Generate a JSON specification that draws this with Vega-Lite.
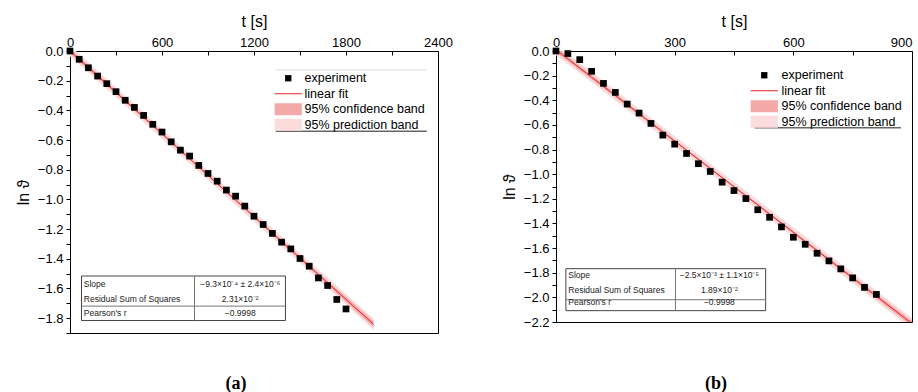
{
  "$schema": "https://vega.github.io/schema/vega-lite/v6.json",
  "padding": {"left": 14, "top": 12, "right": 0, "bottom": 0},
  "spacing": 47,
  "config": {
    "font": "Liberation Sans",
    "view": {"stroke": "#000", "strokeWidth": 1},
    "axis": {"domainColor": "#000", "tickColor": "#000", "labelColor": "#000", "titleColor": "#000", "labelFont": "Liberation Sans", "titleFont": "Liberation Sans", "labelFontSize": 13, "titleFontSize": 16, "titleFontWeight": "normal", "grid": false, "labelFlush": false, "labelOverlap": false},
    "legend": {"labelFont": "Liberation Sans", "labelFontSize": 12.5, "labelColor": "#000"},
    "title": {"font": "Liberation Serif", "fontSize": 18, "fontWeight": "bold", "color": "#000", "orient": "bottom", "anchor": "middle"}
  },
  "resolve": {
    "scale": {"x": "independent", "y": "independent", "color": "independent", "shape": "independent"},
    "legend": {"color": "independent", "shape": "independent"}
  },
  "datasets": {
    "ptsA": [
      {"t": 0, "ln": 0}, {"t": 60, "ln": -0.056}, {"t": 120, "ln": -0.113}, {"t": 180, "ln": -0.169}, {"t": 240, "ln": -0.22}, {"t": 300, "ln": -0.274}, {"t": 360, "ln": -0.332}, {"t": 420, "ln": -0.38}, {"t": 480, "ln": -0.434}, {"t": 540, "ln": -0.494}, {"t": 600, "ln": -0.546}, {"t": 660, "ln": -0.612}, {"t": 720, "ln": -0.668}, {"t": 780, "ln": -0.708}, {"t": 840, "ln": -0.771}, {"t": 900, "ln": -0.825}, {"t": 960, "ln": -0.877}, {"t": 1020, "ln": -0.937}, {"t": 1080, "ln": -0.978}, {"t": 1140, "ln": -1.045}, {"t": 1200, "ln": -1.113}, {"t": 1260, "ln": -1.169}, {"t": 1320, "ln": -1.229}, {"t": 1380, "ln": -1.288}, {"t": 1440, "ln": -1.333}, {"t": 1500, "ln": -1.398}, {"t": 1560, "ln": -1.45}, {"t": 1620, "ln": -1.529}, {"t": 1680, "ln": -1.58}, {"t": 1740, "ln": -1.674}, {"t": 1800, "ln": -1.738}
    ],
    "fitA": [
      {"t": 0, "fit": 0, "clo": -0.018, "chi": 0.018, "plo": -0.036, "phi": 0.036},
      {"t": 400, "fit": -0.372, "clo": -0.383, "chi": -0.361, "plo": -0.405, "phi": -0.339},
      {"t": 800, "fit": -0.744, "clo": -0.752, "chi": -0.736, "plo": -0.776, "phi": -0.712},
      {"t": 1200, "fit": -1.116, "clo": -1.125, "chi": -1.107, "plo": -1.148, "phi": -1.084},
      {"t": 1600, "fit": -1.488, "clo": -1.501, "chi": -1.475, "plo": -1.522, "phi": -1.454},
      {"t": 1980, "fit": -1.841, "clo": -1.861, "chi": -1.821, "plo": -1.879, "phi": -1.803}
    ],
    "ptsB": [
      {"t": 0, "ln": 0}, {"t": 30, "ln": -0.021}, {"t": 60, "ln": -0.07}, {"t": 90, "ln": -0.165}, {"t": 120, "ln": -0.263}, {"t": 150, "ln": -0.336}, {"t": 180, "ln": -0.431}, {"t": 210, "ln": -0.504}, {"t": 240, "ln": -0.588}, {"t": 270, "ln": -0.683}, {"t": 300, "ln": -0.756}, {"t": 330, "ln": -0.832}, {"t": 360, "ln": -0.915}, {"t": 390, "ln": -0.978}, {"t": 420, "ln": -1.065}, {"t": 450, "ln": -1.133}, {"t": 480, "ln": -1.198}, {"t": 510, "ln": -1.289}, {"t": 540, "ln": -1.35}, {"t": 570, "ln": -1.428}, {"t": 600, "ln": -1.512}, {"t": 630, "ln": -1.569}, {"t": 660, "ln": -1.642}, {"t": 690, "ln": -1.704}, {"t": 720, "ln": -1.769}, {"t": 750, "ln": -1.842}, {"t": 780, "ln": -1.919}, {"t": 810, "ln": -1.976}
    ],
    "fitB": [
      {"t": 0, "fit": 0.01, "clo": -0.01, "chi": 0.03, "plo": -0.035, "phi": 0.055},
      {"t": 225, "fit": -0.546, "clo": -0.558, "chi": -0.534, "plo": -0.587, "phi": -0.505},
      {"t": 450, "fit": -1.102, "clo": -1.111, "chi": -1.093, "plo": -1.142, "phi": -1.062},
      {"t": 675, "fit": -1.657, "clo": -1.669, "chi": -1.645, "plo": -1.698, "phi": -1.616},
      {"t": 900, "fit": -2.213, "clo": -2.235, "chi": -2.191, "plo": -2.259, "phi": -2.167}
    ],
    "legendItems": [
      {"item": "experiment"}, {"item": "linear fit"}, {"item": "95% confidence band"}, {"item": "95% prediction band"}
    ]
  },
  "hconcat": [
    {
      "width": 368,
      "height": 282,
      "title": {"text": "(a)", "offset": 35, "dx": -18},
      "layer": [
        {
          "data": {"name": "fitA"},
          "mark": {"type": "area", "color": "#fbdcdc", "clip": true},
          "encoding": {
            "x": {"field": "t", "type": "quantitative", "scale": {"domain": [0, 2400], "nice": false, "zero": false},
              "axis": {"orient": "top", "title": "t [s]", "values": [0, 300, 600, 900, 1200, 1500, 1800, 2100, 2400], "tickCount": 100, "format": "d", "labelExpr": "datum.value % 600 == 0 ? datum.label : ''", "tickSize": -4, "labelPadding": 6, "titlePadding": 7, "labelOverlap": false, "labelFlush": false}},
            "y": {"field": "plo", "type": "quantitative", "scale": {"domain": [-1.9, 0], "nice": false, "zero": false},
              "axis": {"title": "ln ϑ", "values": [0, -0.1, -0.2, -0.3, -0.4, -0.5, -0.6, -0.7, -0.8, -0.9, -1, -1.1, -1.2, -1.3, -1.4, -1.5, -1.6, -1.7, -1.8, -1.9], "tickCount": 100, "format": ".1f", "labelExpr": "abs(round(datum.value*10)) % 2 == 0 ? datum.label : ''", "tickSize": 4, "labelPadding": 3, "titlePadding": 6, "labelOverlap": false, "labelFlush": false}},
            "y2": {"field": "phi"}
          }
        },
        {
          "data": {"name": "fitA"},
          "mark": {"type": "area", "color": "#f4a9a9", "clip": true},
          "encoding": {"x": {"field": "t", "type": "quantitative"}, "y": {"field": "clo", "type": "quantitative"}, "y2": {"field": "chi"}}
        },
        {
          "data": {"name": "fitA"},
          "mark": {"type": "line", "color": "#e8262a", "strokeWidth": 1, "clip": true},
          "encoding": {"x": {"field": "t", "type": "quantitative"}, "y": {"field": "fit", "type": "quantitative"}}
        },
        {
          "data": {"name": "ptsA"},
          "mark": {"type": "square", "color": "#000", "filled": true, "size": 45, "opacity": 1},
          "encoding": {"x": {"field": "t", "type": "quantitative"}, "y": {"field": "ln", "type": "quantitative"}}
        },
        {
          "data": {"values": [{}]},
          "mark": {"type": "rule", "color": "#ddd", "strokeWidth": 1},
          "encoding": {"x": {"datum": 1342, "type": "quantitative"}, "x2": {"datum": 2327}, "y": {"datum": -0.128, "type": "quantitative"}}
        },
        {
          "data": {"values": [{}]},
          "mark": {"type": "rule", "color": "#666", "strokeWidth": 1.5},
          "encoding": {"x": {"datum": 1342, "type": "quantitative"}, "x2": {"datum": 2327}, "y": {"datum": -0.541, "type": "quantitative"}}
        },
        {
          "data": {"name": "legendItems"},
          "mark": {"type": "point", "filled": true, "opacity": 0},
          "encoding": {
            "x": {"datum": 0, "type": "quantitative"},
            "y": {"datum": 0, "type": "quantitative"},
            "color": {"field": "item", "type": "nominal", "sort": null,
              "scale": {"domain": ["experiment", "linear fit", "95% confidence band", "95% prediction band"], "range": ["#000000", "#e8262a", "#f4a9a9", "#fbdcdc"]},
              "legend": {"title": null, "orient": "none", "legendX": 212, "legendY": 21, "symbolSize": 40, "labelOffset": 10, "rowPadding": 2.5, "padding": 0, "symbolStrokeWidth": 0, "symbolOpacity": 1, "encode": {"symbols": {"update": {"opacity": {"value": 1}, "fillOpacity": {"value": 1}}}}}},
            "shape": {"field": "item", "type": "nominal", "sort": null,
              "scale": {"domain": ["experiment", "linear fit", "95% confidence band", "95% prediction band"], "range": ["square", "M-4.3,-0.16H4.3V0.16H-4.3Z", "M-4.3,-1.9H4.3V1.9H-4.3Z", "M-4.3,-1.9H4.3V1.9H-4.3Z"]},
              "legend": {"title": null, "orient": "none", "legendX": 212, "legendY": 21, "symbolSize": 40, "labelOffset": 10, "rowPadding": 2.5, "padding": 0, "symbolStrokeWidth": 0, "symbolOpacity": 1, "encode": {"symbols": {"update": {"opacity": {"value": 1}, "fillOpacity": {"value": 1}}}}}}
          }
        },
        {
          "data": {"values": [{}]},
          "mark": {"type": "rect", "fill": "#fff", "stroke": "#444", "strokeWidth": 1},
          "encoding": {"x": {"datum": 75, "type": "quantitative"}, "x2": {"datum": 1405}, "y": {"datum": -1.516, "type": "quantitative"}, "y2": {"datum": -1.816}}
        },
        {
          "data": {"values": [{}]},
          "mark": {"type": "rule", "color": "#777", "strokeWidth": 1},
          "encoding": {"x": {"datum": 812, "type": "quantitative"}, "y": {"datum": -1.516, "type": "quantitative"}, "y2": {"datum": -1.816}}
        },
        {
          "data": {"values": [{}]},
          "mark": {"type": "rule", "color": "#777", "strokeWidth": 1},
          "encoding": {"x": {"datum": 75, "type": "quantitative"}, "x2": {"datum": 1405}, "y": {"datum": -1.719, "type": "quantitative"}}
        },
        {
          "data": {"values": [{"s": "Slope"}]},
          "mark": {"type": "text", "align": "left", "baseline": "middle", "fontSize": 8.5, "color": "#222"},
          "encoding": {"x": {"datum": 90, "type": "quantitative"}, "y": {"datum": -1.57, "type": "quantitative"}, "text": {"field": "s"}}
        },
        {
          "data": {"values": [{"s": "Residual Sum of Squares"}]},
          "mark": {"type": "text", "align": "left", "baseline": "middle", "fontSize": 8.5, "color": "#222"},
          "encoding": {"x": {"datum": 90, "type": "quantitative"}, "y": {"datum": -1.669, "type": "quantitative"}, "text": {"field": "s"}}
        },
        {
          "data": {"values": [{"s": "Pearson's r"}]},
          "mark": {"type": "text", "align": "left", "baseline": "middle", "fontSize": 8.5, "color": "#222"},
          "encoding": {"x": {"datum": 90, "type": "quantitative"}, "y": {"datum": -1.768, "type": "quantitative"}, "text": {"field": "s"}}
        },
        {
          "data": {"values": [{"s": "−9.3×10⁻⁴ ± 2.4×10⁻⁶"}]},
          "mark": {"type": "text", "align": "center", "baseline": "middle", "fontSize": 8.5, "color": "#222"},
          "encoding": {"x": {"datum": 1110, "type": "quantitative"}, "y": {"datum": -1.57, "type": "quantitative"}, "text": {"field": "s"}}
        },
        {
          "data": {"values": [{"s": "2.31×10⁻²"}]},
          "mark": {"type": "text", "align": "center", "baseline": "middle", "fontSize": 8.5, "color": "#222"},
          "encoding": {"x": {"datum": 1110, "type": "quantitative"}, "y": {"datum": -1.669, "type": "quantitative"}, "text": {"field": "s"}}
        },
        {
          "data": {"values": [{"s": "−0.9998"}]},
          "mark": {"type": "text", "align": "center", "baseline": "middle", "fontSize": 8.5, "color": "#222"},
          "encoding": {"x": {"datum": 1110, "type": "quantitative"}, "y": {"datum": -1.768, "type": "quantitative"}, "text": {"field": "s"}}
        }
      ]
    },
    {
      "width": 356,
      "height": 271,
      "title": {"text": "(b)", "offset": 46, "dx": -18},
      "layer": [
        {
          "data": {"name": "fitB"},
          "mark": {"type": "area", "color": "#fbdcdc", "clip": true},
          "encoding": {
            "x": {"field": "t", "type": "quantitative", "scale": {"domain": [0, 900], "nice": false, "zero": false},
              "axis": {"orient": "top", "title": "t [s]", "values": [0, 150, 300, 450, 600, 750, 900], "tickCount": 100, "format": "d", "labelExpr": "datum.value % 300 == 0 ? datum.label : ''", "labelAlign": {"condition": {"test": "datum.value >= 900", "value": "right"}, "value": "center"}, "tickSize": -4, "labelPadding": 6, "titlePadding": 7, "labelOverlap": false, "labelFlush": false}},
            "y": {"field": "plo", "type": "quantitative", "scale": {"domain": [-2.2, 0], "nice": false, "zero": false},
              "axis": {"title": "ln ϑ", "values": [0, -0.1, -0.2, -0.3, -0.4, -0.5, -0.6, -0.7, -0.8, -0.9, -1, -1.1, -1.2, -1.3, -1.4, -1.5, -1.6, -1.7, -1.8, -1.9, -2, -2.1, -2.2], "tickCount": 100, "format": ".1f", "labelExpr": "abs(round(datum.value*10)) % 2 == 0 ? datum.label : ''", "tickSize": 4, "labelPadding": 3, "titlePadding": 6, "labelOverlap": false, "labelFlush": false}},
            "y2": {"field": "phi"}
          }
        },
        {
          "data": {"name": "fitB"},
          "mark": {"type": "area", "color": "#f4a9a9", "clip": true},
          "encoding": {"x": {"field": "t", "type": "quantitative"}, "y": {"field": "clo", "type": "quantitative"}, "y2": {"field": "chi"}}
        },
        {
          "data": {"name": "fitB"},
          "mark": {"type": "line", "color": "#e8262a", "strokeWidth": 1, "clip": true},
          "encoding": {"x": {"field": "t", "type": "quantitative"}, "y": {"field": "fit", "type": "quantitative"}}
        },
        {
          "data": {"name": "ptsB"},
          "mark": {"type": "square", "color": "#000", "filled": true, "size": 45, "opacity": 1},
          "encoding": {"x": {"field": "t", "type": "quantitative"}, "y": {"field": "ln", "type": "quantitative"}}
        },
        {
          "data": {"values": [{}]},
          "mark": {"type": "rule", "color": "#666", "strokeWidth": 1.5},
          "encoding": {"x": {"datum": 502, "type": "quantitative"}, "x2": {"datum": 872}, "y": {"datum": -0.623, "type": "quantitative"}}
        },
        {
          "data": {"name": "legendItems"},
          "mark": {"type": "point", "filled": true, "opacity": 0},
          "encoding": {
            "x": {"datum": 0, "type": "quantitative"},
            "y": {"datum": 0, "type": "quantitative"},
            "color": {"field": "item", "type": "nominal", "sort": null,
              "scale": {"domain": ["experiment", "linear fit", "95% confidence band", "95% prediction band"], "range": ["#000000", "#e8262a", "#f4a9a9", "#fbdcdc"]},
              "legend": {"title": null, "orient": "none", "legendX": 202, "legendY": 18, "symbolSize": 40, "labelOffset": 11, "rowPadding": 2.5, "padding": 0, "symbolStrokeWidth": 0, "symbolOpacity": 1, "encode": {"symbols": {"update": {"opacity": {"value": 1}, "fillOpacity": {"value": 1}}}}}},
            "shape": {"field": "item", "type": "nominal", "sort": null,
              "scale": {"domain": ["experiment", "linear fit", "95% confidence band", "95% prediction band"], "range": ["square", "M-4.3,-0.16H4.3V0.16H-4.3Z", "M-4.3,-1.9H4.3V1.9H-4.3Z", "M-4.3,-1.9H4.3V1.9H-4.3Z"]},
              "legend": {"title": null, "orient": "none", "legendX": 202, "legendY": 18, "symbolSize": 40, "labelOffset": 11, "rowPadding": 2.5, "padding": 0, "symbolStrokeWidth": 0, "symbolOpacity": 1, "encode": {"symbols": {"update": {"opacity": {"value": 1}, "fillOpacity": {"value": 1}}}}}}
          }
        },
        {
          "data": {"values": [{}]},
          "mark": {"type": "rect", "fill": "#fff", "stroke": "#444", "strokeWidth": 1},
          "encoding": {"x": {"datum": 25, "type": "quantitative"}, "x2": {"datum": 530}, "y": {"datum": -1.767, "type": "quantitative"}, "y2": {"datum": -2.108}}
        },
        {
          "data": {"values": [{}]},
          "mark": {"type": "rule", "color": "#777", "strokeWidth": 1},
          "encoding": {"x": {"datum": 302, "type": "quantitative"}, "y": {"datum": -1.767, "type": "quantitative"}, "y2": {"datum": -2.108}}
        },
        {
          "data": {"values": [{}]},
          "mark": {"type": "rule", "color": "#777", "strokeWidth": 1},
          "encoding": {"x": {"datum": 25, "type": "quantitative"}, "x2": {"datum": 530}, "y": {"datum": -2.019, "type": "quantitative"}}
        },
        {
          "data": {"values": [{"s": "Slope"}]},
          "mark": {"type": "text", "align": "left", "baseline": "middle", "fontSize": 8.5, "color": "#222"},
          "encoding": {"x": {"datum": 31, "type": "quantitative"}, "y": {"datum": -1.815, "type": "quantitative"}, "text": {"field": "s"}}
        },
        {
          "data": {"values": [{"s": "Residual Sum of Squares"}]},
          "mark": {"type": "text", "align": "left", "baseline": "middle", "fontSize": 8.5, "color": "#222"},
          "encoding": {"x": {"datum": 31, "type": "quantitative"}, "y": {"datum": -1.937, "type": "quantitative"}, "text": {"field": "s"}}
        },
        {
          "data": {"values": [{"s": "Pearson's r"}]},
          "mark": {"type": "text", "align": "left", "baseline": "middle", "fontSize": 8.5, "color": "#222"},
          "encoding": {"x": {"datum": 31, "type": "quantitative"}, "y": {"datum": -2.041, "type": "quantitative"}, "text": {"field": "s"}}
        },
        {
          "data": {"values": [{"s": "−2.5×10⁻³ ± 1.1×10⁻⁵"}]},
          "mark": {"type": "text", "align": "center", "baseline": "middle", "fontSize": 8.5, "color": "#222"},
          "encoding": {"x": {"datum": 413, "type": "quantitative"}, "y": {"datum": -1.815, "type": "quantitative"}, "text": {"field": "s"}}
        },
        {
          "data": {"values": [{"s": "1.89×10⁻²"}]},
          "mark": {"type": "text", "align": "center", "baseline": "middle", "fontSize": 8.5, "color": "#222"},
          "encoding": {"x": {"datum": 413, "type": "quantitative"}, "y": {"datum": -1.937, "type": "quantitative"}, "text": {"field": "s"}}
        },
        {
          "data": {"values": [{"s": "−0.9998"}]},
          "mark": {"type": "text", "align": "center", "baseline": "middle", "fontSize": 8.5, "color": "#222"},
          "encoding": {"x": {"datum": 413, "type": "quantitative"}, "y": {"datum": -2.041, "type": "quantitative"}, "text": {"field": "s"}}
        }
      ]
    }
  ]
}
